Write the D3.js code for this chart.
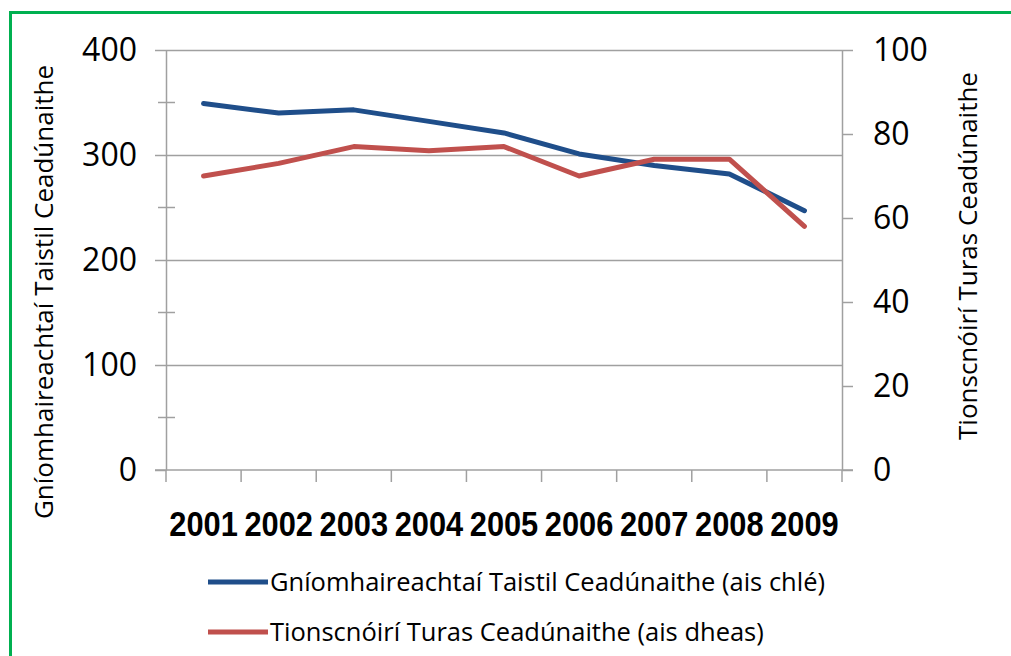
<!DOCTYPE html>
<html>
<head>
<meta charset="utf-8">
<script src="https://cdn.jsdelivr.net/npm/d3@7"></script>
<style>
  body { margin: 0; background: #fff; }
  svg { display: block; }
  text { fill: #000; }
</style>
</head>
<body>
<svg id="chart" width="1011" height="656"></svg>
<script>
// data
var years = ["2001", "2002", "2003", "2004", "2005", "2006", "2007", "2008", "2009"];
var agencies = [349, 340, 343, 332, 321, 301, 290, 282, 247];   // left axis
var operators = [70, 73, 77, 76, 77, 70, 74, 74, 58];           // right axis
var leftTicks = [0, 100, 200, 300, 400];
var leftMinor = [50, 150, 250, 350];
var rightTicks = [0, 20, 40, 60, 80, 100];
var seriesNames = ["Gníomhaireachtaí Taistil Ceadúnaithe (ais chlé)",
                   "Tionscnóirí Turas Ceadúnaithe (ais dheas)"];
var leftTitle = "Gníomhaireachtaí Taistil Ceadúnaithe";
var rightTitle = "Tionscnóirí Turas Ceadúnaithe";

var svg = d3.select("#chart"),
    plot = {left: 166, right: 842, top: 50, bottom: 470},
    blue = "#1f4e8a",
    red = "#c0504d",
    grey = "#a0a0a0",
    font = "'Open Sans', 'Liberation Sans', sans-serif";

// green frame
svg.append("rect")
    .attr("x", 10.5).attr("y", 12.5)
    .attr("width", 1100).attr("height", 700)
    .attr("fill", "none")
    .attr("stroke", "#00b050")
    .attr("stroke-width", 3);

var x = d3.scaleBand().domain(years).range([plot.left, plot.right]);
var yL = d3.scaleLinear().domain([0, 400]).range([plot.bottom, plot.top]);
var yR = d3.scaleLinear().domain([0, 100]).range([plot.bottom, plot.top]);

// gridlines
svg.append("g")
    .attr("transform", "translate(" + plot.left + ",0)")
    .call(d3.axisLeft(yL).tickValues(leftTicks.slice(1)).tickSize(-(plot.right - plot.left)).tickFormat(""))
    .call(function (g) {
        g.select(".domain").remove();
        g.selectAll("line").attr("stroke", grey).attr("stroke-width", 1.5);
    });

// left axis
svg.append("g")
    .attr("transform", "translate(" + plot.left + ",0)")
    .call(d3.axisLeft(yL).tickValues(leftTicks).tickSize(11).tickSizeOuter(0).tickPadding(18))
    .call(function (g) {
        g.select(".domain").attr("stroke", grey).attr("stroke-width", 1.5);
        g.selectAll("line").attr("stroke", grey).attr("stroke-width", 1.5);
        g.selectAll("text").attr("font-family", font).attr("font-size", 32).attr("fill", "#1a1a1a");
    });

// left minor ticks (cross the axis)
svg.append("g").selectAll("line")
    .data(leftMinor)
    .enter().append("line")
    .attr("x1", plot.left - 8).attr("x2", plot.left + 9)
    .attr("y1", function (d) { return yL(d); })
    .attr("y2", function (d) { return yL(d); })
    .attr("stroke", grey).attr("stroke-width", 1.5);

// right axis
svg.append("g")
    .attr("transform", "translate(" + plot.right + ",0)")
    .call(d3.axisRight(yR).tickValues(rightTicks).tickSize(11).tickSizeOuter(0).tickPadding(20))
    .call(function (g) {
        g.select(".domain").attr("stroke", grey).attr("stroke-width", 1.5);
        g.selectAll("line").attr("stroke", grey).attr("stroke-width", 1.5);
        g.selectAll("text").attr("font-family", font).attr("font-size", 32).attr("fill", "#1a1a1a");
    });

// x axis line and category boundary ticks
svg.append("line")
    .attr("x1", plot.left - 11).attr("x2", plot.right + 11)
    .attr("y1", plot.bottom).attr("y2", plot.bottom)
    .attr("stroke", grey).attr("stroke-width", 1.5);

var bounds = years.map(function (d) { return x(d); }).concat([x.range()[1]]);
svg.append("g").selectAll("line")
    .data(bounds)
    .enter().append("line")
    .attr("x1", function (d) { return d; })
    .attr("x2", function (d) { return d; })
    .attr("y1", plot.bottom).attr("y2", plot.bottom + 12)
    .attr("stroke", grey).attr("stroke-width", 1.5);

// year labels (bold, squeezed horizontally like the original)
svg.append("g")
    .attr("transform", "translate(0," + plot.bottom + ")")
    .call(d3.axisBottom(x).tickSize(0).tickPadding(41))
    .call(function (g) {
        g.select(".domain").remove();
        g.selectAll("text")
            .attr("font-family", "'Liberation Sans', Arial, sans-serif")
            .attr("font-weight", "bold")
            .attr("font-size", 35)
            .attr("transform", "scale(0.88,1)")
            .attr("fill", "#000");
    });

// lines
var cx = function (d, i) { return x(years[i]) + x.bandwidth() / 2; };

svg.append("path")
    .datum(agencies)
    .attr("fill", "none")
    .attr("stroke", blue)
    .attr("stroke-width", 5)
    .attr("stroke-linecap", "round")
    .attr("stroke-linejoin", "round")
    .attr("d", d3.line().x(cx).y(function (d) { return yL(d); }));

svg.append("path")
    .datum(operators)
    .attr("fill", "none")
    .attr("stroke", red)
    .attr("stroke-width", 5)
    .attr("stroke-linecap", "round")
    .attr("stroke-linejoin", "round")
    .attr("d", d3.line().x(cx).y(function (d) { return yR(d); }));

// axis titles
svg.append("text")
    .attr("transform", "translate(53,292) rotate(-90)")
    .attr("text-anchor", "middle")
    .attr("font-family", font)
    .attr("font-size", 26)
    .text(leftTitle);

svg.append("text")
    .attr("transform", "translate(977,256) rotate(-90)")
    .attr("text-anchor", "middle")
    .attr("font-family", font)
    .attr("font-size", 26)
    .text(rightTitle);

// legend
var legend = svg.append("g").selectAll("g")
    .data(seriesNames)
    .enter().append("g")
    .attr("transform", function (d, i) { return "translate(208," + (582 + i * 50) + ")"; });

legend.append("line")
    .attr("x1", 0).attr("x2", 60)
    .attr("stroke", function (d, i) { return i === 0 ? blue : red; })
    .attr("stroke-width", 5);

legend.append("text")
    .attr("x", 62)
    .attr("dy", "0.35em")
    .attr("font-family", font)
    .attr("font-size", 25.5)
    .text(function (d) { return d; });
</script>
</body>
</html>
